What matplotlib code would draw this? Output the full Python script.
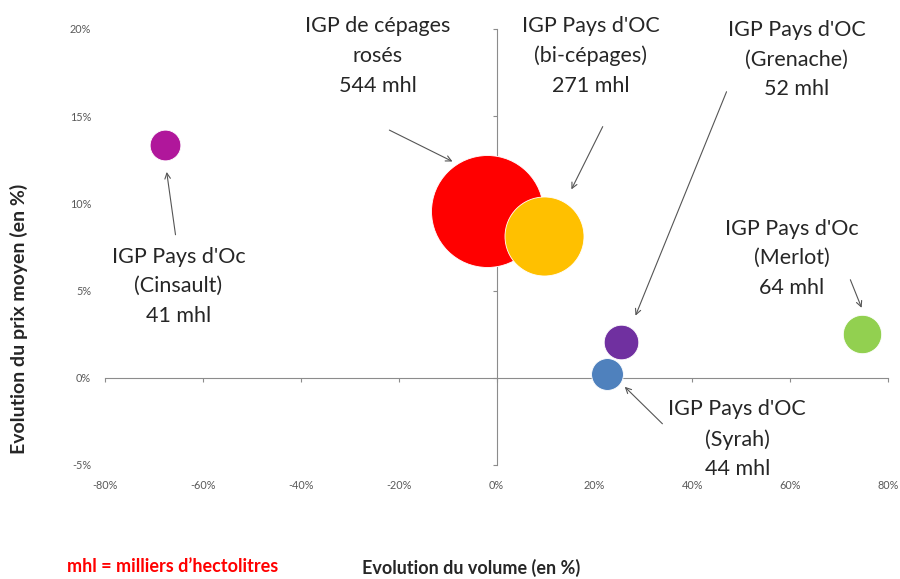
import matplotlib
matplotlib.use('Agg')
import matplotlib.pyplot as plt
import numpy as np

plt.rcParams['font.family'] = ['Lato', 'DejaVu Sans']

# donnees : evolution volume (%), evolution prix (%), volume (mhl)
names = ['Cinsault', 'rosés', 'bi-cépages', 'Grenache', 'Syrah', 'Merlot']
vol_evol = [-67.7, -2.0, 9.8, 25.4, 22.5, 74.6]
prix_evol = [13.36, 9.58, 8.14, 2.06, 0.23, 2.52]
mhl = [41, 544, 271, 52, 44, 64]
colors = ['#B0179B', '#FF0000', '#FFC000', '#7030A0', '#4F81BD', '#92D050']
labels = ["IGP Pays d'Oc\n(Cinsault)\n41 mhl",
          "IGP de cépages\nrosés\n544 mhl",
          "IGP Pays d'OC\n(bi-cépages)\n271 mhl",
          "IGP Pays d'OC\n(Grenache)\n52 mhl",
          "IGP Pays d'OC\n(Syrah)\n44 mhl",
          "IGP Pays d'Oc\n(Merlot)\n64 mhl"]
xticks = [-80, -60, -40, -20, 0, 20, 40, 60, 80]
yticks = [-5, 0, 5, 10, 15, 20]

# position du texte et depart / arrivee des fleches
txt_pos = [(-65.0, 5.25), (-24.3, 18.45), (19.2, 18.45), (61.3, 18.25), (49.2, -3.52), (60.3, 6.85)]
arr_from = [(-65.6, 8.2), (-21.9, 14.2), (21.7, 14.4), (47.0, 16.4), (33.9, -2.64), (72.3, 5.62)]
arr_to = [(-67.4, 11.8), (-9.0, 12.4), (15.3, 10.8), (28.4, 3.56), (26.2, -0.52), (74.6, 4.01)]

fig = plt.figure(figsize=(9, 5.79), dpi=100)
ax = fig.add_axes([0.1167, 0.197, 0.87, 0.753])

for i in range(len(names)):
    ax.scatter(vol_evol[i], prix_evol[i], s=11.94 * mhl[i], color=colors[i],
               edgecolors='white', linewidths=0.6, zorder=3)

ax.set_xlim(-80, 80)
ax.set_ylim(-5, 20)

axis_col = '#8c8c8c'
for s in ['top', 'right']:
    ax.spines[s].set_visible(False)
ax.spines['left'].set_position(('data', 0))
ax.spines['bottom'].set_position(('data', 0))
ax.spines['left'].set_color(axis_col)
ax.spines['bottom'].set_color(axis_col)
ax.set_xticks(xticks)
ax.set_yticks(yticks)
ax.tick_params(axis='both', direction='out', length=3, width=0.8, color=axis_col,
               labelleft=False, labelbottom=False)

# etiquettes des axes en bas et a gauche (comme Excel "bas")
secx = ax.secondary_xaxis(0)
secx.set_xticks(xticks)
secx.set_xticklabels([str(v) + '%' for v in xticks])
secx.spines['bottom'].set_visible(False)
secx.tick_params(length=0, labelsize=7.8, labelcolor='#595959', pad=11)
secy = ax.secondary_yaxis(0)
secy.set_yticks(yticks)
secy.set_yticklabels([str(v) + '%' for v in yticks])
secy.spines['left'].set_visible(False)
secy.tick_params(length=0, labelsize=7.8, labelcolor='#595959', pad=10)

for i in range(len(names)):
    ax.annotate('', xy=arr_to[i], xytext=arr_from[i],
                arrowprops=dict(arrowstyle='->', color='#555555', lw=0.8, shrinkA=0, shrinkB=0))
    ax.text(txt_pos[i][0], txt_pos[i][1], labels[i], ha='center', va='center',
            fontsize=15.5, color='#262626', linespacing=1.6, zorder=4)

fig.text(0.021, 0.45, 'Evolution du prix moyen (en %)', rotation=90, ha='center', va='center',
         fontsize=14, fontweight='bold', color='#262626')
fig.text(0.524, 0.019, 'Evolution du volume (en %)', ha='center', va='center',
         fontsize=13, fontweight='bold', color='#262626')
fig.text(0.192, 0.022, 'mhl = milliers d\u2019hectolitres', ha='center', va='center',
         fontsize=13, fontweight='bold', color='#FF0000')

fig.savefig('out.png', dpi=100)
